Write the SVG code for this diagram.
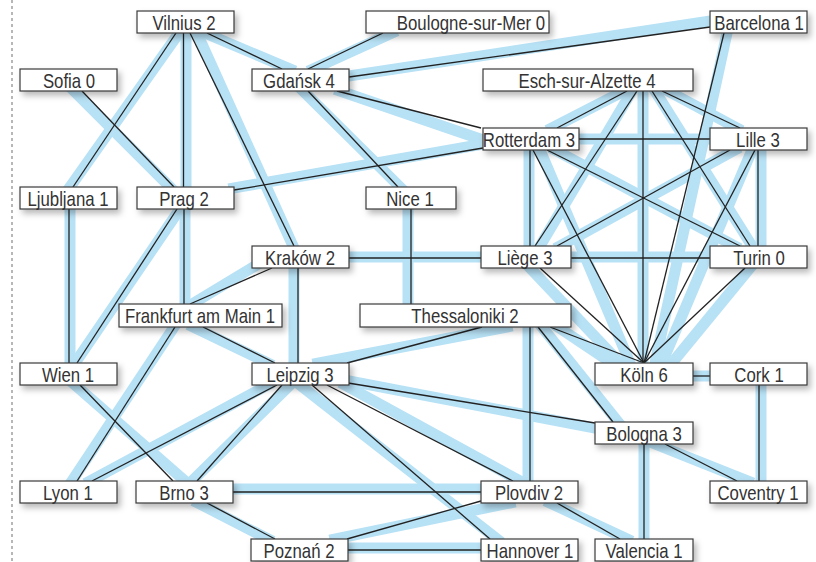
<svg xmlns="http://www.w3.org/2000/svg" width="816" height="562" viewBox="0 0 816 562">
<defs>
<filter id="sh" x="-20%" y="-50%" width="150%" height="220%">
<feDropShadow dx="3" dy="4" stdDeviation="3" flood-color="#000" flood-opacity="0.28"/>
</filter>
</defs>
<style>
.b{stroke:#b7e1f5;stroke-width:11;stroke-linecap:square;fill:none}
.k{stroke:#222;stroke-width:1.3;fill:none}
.n rect{fill:#fff;stroke:#3a3a3a;stroke-width:1.2;filter:url(#sh)}
.n text{font-family:"Liberation Sans",Arial,sans-serif;font-size:20px;fill:#333;text-anchor:middle}
</style>
<rect width="816" height="562" fill="#fff"/>
<line x1="12" y1="0" x2="12" y2="562" stroke="#888" stroke-width="1.2" stroke-dasharray="3,3"/>
<g id="connectors">
<g id="blue">
<line class="b" x1="179" y1="33" x2="70" y2="187"/>
<line class="b" x1="70" y1="209" x2="70" y2="363"/>
<line class="b" x1="186" y1="33" x2="186" y2="187"/>
<line class="b" x1="197" y1="33" x2="293" y2="246"/>
<line class="b" x1="205" y1="33" x2="290" y2="69"/>
<line class="b" x1="74" y1="91" x2="170" y2="187"/>
<line class="b" x1="313" y1="69" x2="392" y2="33"/>
<line class="b" x1="349" y1="76" x2="710" y2="21"/>
<line class="b" x1="340" y1="91" x2="483" y2="140"/>
<line class="b" x1="303" y1="91" x2="400" y2="187"/>
<line class="b" x1="483" y1="144" x2="234" y2="188"/>
<line class="b" x1="727" y1="33" x2="655" y2="363"/>
<line class="b" x1="624" y1="91" x2="552" y2="128"/>
<line class="b" x1="632" y1="91" x2="540" y2="246"/>
<line class="b" x1="643" y1="91" x2="643" y2="363"/>
<line class="b" x1="655" y1="91" x2="752" y2="246"/>
<line class="b" x1="668" y1="91" x2="737" y2="128"/>
<line class="b" x1="579" y1="139" x2="710" y2="139"/>
<line class="b" x1="529" y1="150" x2="529" y2="246"/>
<line class="b" x1="540" y1="150" x2="630" y2="363"/>
<line class="b" x1="555" y1="150" x2="735" y2="246"/>
<line class="b" x1="735" y1="150" x2="560" y2="246"/>
<line class="b" x1="761" y1="150" x2="761" y2="246"/>
<line class="b" x1="752" y1="150" x2="662" y2="363"/>
<line class="b" x1="571" y1="257" x2="710" y2="257"/>
<line class="b" x1="530" y1="268" x2="620" y2="363"/>
<line class="b" x1="750" y1="268" x2="672" y2="363"/>
<line class="b" x1="349" y1="257" x2="481" y2="257"/>
<line class="b" x1="408" y1="209" x2="408" y2="304"/>
<line class="b" x1="294" y1="268" x2="294" y2="363"/>
<line class="b" x1="255" y1="266" x2="192" y2="304"/>
<line class="b" x1="185" y1="209" x2="185" y2="304"/>
<line class="b" x1="180" y1="209" x2="75" y2="363"/>
<line class="b" x1="174" y1="327" x2="72" y2="481"/>
<line class="b" x1="193" y1="327" x2="268" y2="363"/>
<line class="b" x1="507" y1="327" x2="318" y2="363"/>
<line class="b" x1="528" y1="327" x2="528" y2="481"/>
<line class="b" x1="542" y1="327" x2="618" y2="422"/>
<line class="b" x1="558" y1="327" x2="612" y2="363"/>
<line class="b" x1="349" y1="381" x2="595" y2="428"/>
<line class="b" x1="345" y1="385" x2="520" y2="481"/>
<line class="b" x1="300" y1="385" x2="497" y2="539"/>
<line class="b" x1="290" y1="385" x2="192" y2="481"/>
<line class="b" x1="268" y1="385" x2="90" y2="481"/>
<line class="b" x1="75" y1="385" x2="185" y2="481"/>
<line class="b" x1="233" y1="489" x2="481" y2="489"/>
<line class="b" x1="198" y1="503" x2="268" y2="539"/>
<line class="b" x1="510" y1="503" x2="335" y2="539"/>
<line class="b" x1="348" y1="548" x2="481" y2="548"/>
<line class="b" x1="550" y1="503" x2="627" y2="539"/>
<line class="b" x1="693" y1="376" x2="710" y2="376"/>
<line class="b" x1="761" y1="385" x2="761" y2="481"/>
<line class="b" x1="655" y1="444" x2="748" y2="481"/>
<line class="b" x1="644" y1="444" x2="644" y2="539"/>
</g>
<g id="black">
<line class="k" x1="176" y1="33" x2="73" y2="187"/>
<line class="k" x1="69" y1="209" x2="69" y2="363"/>
<line class="k" x1="183.5" y1="33" x2="183.5" y2="187"/>
<line class="k" x1="190" y1="33" x2="294" y2="246"/>
<line class="k" x1="207" y1="33" x2="282" y2="69"/>
<line class="k" x1="82" y1="91" x2="174" y2="187"/>
<line class="k" x1="308" y1="69" x2="383" y2="33"/>
<line class="k" x1="349" y1="77" x2="710" y2="27"/>
<line class="k" x1="337" y1="91" x2="481" y2="128"/>
<line class="k" x1="308" y1="91" x2="398" y2="187"/>
<line class="k" x1="483" y1="148" x2="234" y2="190"/>
<line class="k" x1="724" y1="33" x2="644" y2="363"/>
<line class="k" x1="627" y1="91" x2="557" y2="128"/>
<line class="k" x1="637" y1="91" x2="535" y2="246"/>
<line class="k" x1="643" y1="91" x2="643" y2="363"/>
<line class="k" x1="652" y1="91" x2="750" y2="246"/>
<line class="k" x1="662" y1="91" x2="740" y2="128"/>
<line class="k" x1="579" y1="139" x2="710" y2="139"/>
<line class="k" x1="530" y1="150" x2="530" y2="246"/>
<line class="k" x1="533" y1="150" x2="644" y2="363"/>
<line class="k" x1="547" y1="150" x2="740" y2="246"/>
<line class="k" x1="730" y1="150" x2="557" y2="246"/>
<line class="k" x1="758" y1="150" x2="758" y2="246"/>
<line class="k" x1="755" y1="150" x2="644" y2="363"/>
<line class="k" x1="571" y1="258" x2="710" y2="258"/>
<line class="k" x1="540" y1="268" x2="644" y2="363"/>
<line class="k" x1="745" y1="268" x2="644" y2="363"/>
<line class="k" x1="349" y1="258" x2="481" y2="258"/>
<line class="k" x1="411" y1="209" x2="411" y2="304"/>
<line class="k" x1="298" y1="268" x2="298" y2="363"/>
<line class="k" x1="272" y1="268" x2="190" y2="304"/>
<line class="k" x1="184" y1="209" x2="184" y2="304"/>
<line class="k" x1="177" y1="209" x2="77" y2="363"/>
<line class="k" x1="175" y1="327" x2="77" y2="481"/>
<line class="k" x1="203" y1="327" x2="275" y2="363"/>
<line class="k" x1="482" y1="327" x2="347" y2="363"/>
<line class="k" x1="530" y1="327" x2="530" y2="481"/>
<line class="k" x1="538" y1="327" x2="613" y2="422"/>
<line class="k" x1="550" y1="327" x2="644" y2="363"/>
<line class="k" x1="348" y1="383" x2="595" y2="423"/>
<line class="k" x1="327" y1="385" x2="513" y2="481"/>
<line class="k" x1="312" y1="385" x2="490" y2="539"/>
<line class="k" x1="282" y1="385" x2="197" y2="481"/>
<line class="k" x1="277" y1="385" x2="92" y2="481"/>
<line class="k" x1="80" y1="385" x2="173" y2="481"/>
<line class="k" x1="233" y1="492" x2="481" y2="492"/>
<line class="k" x1="207" y1="503" x2="275" y2="539"/>
<line class="k" x1="481" y1="501" x2="347" y2="539"/>
<line class="k" x1="348" y1="550" x2="481" y2="550"/>
<line class="k" x1="557" y1="503" x2="620" y2="539"/>
<line class="k" x1="693" y1="376" x2="710" y2="376"/>
<line class="k" x1="759" y1="385" x2="759" y2="481"/>
<line class="k" x1="665" y1="444" x2="737" y2="481"/>
<line class="k" x1="644" y1="444" x2="644" y2="539"/>
</g>
</g>
<g id="n-vilnius" class="n"><rect x="137" y="11" width="97" height="22"/><text transform="translate(184 30) scale(0.84 1)">Vilnius 2</text></g>
<g id="n-boulogne" class="n"><rect x="366" y="11" width="183" height="22"/><text transform="translate(471 30) scale(0.84 1)">Boulogne-sur-Mer 0</text></g>
<g id="n-barcelona" class="n"><rect x="710" y="11" width="97" height="22"/><text transform="translate(759 30) scale(0.84 1)">Barcelona 1</text></g>
<g id="n-sofia" class="n"><rect x="20" y="69" width="97" height="22"/><text transform="translate(69 88) scale(0.84 1)">Sofia 0</text></g>
<g id="n-gdansk" class="n"><rect x="252" y="69" width="97" height="22"/><text transform="translate(299 88) scale(0.84 1)">Gdańsk 4</text></g>
<g id="n-esch" class="n"><rect x="483" y="69" width="210" height="22"/><text transform="translate(587 88) scale(0.84 1)">Esch-sur-Alzette 4</text></g>
<g id="n-rotterdam" class="n"><rect x="483" y="128" width="96" height="22"/><text transform="translate(529 147) scale(0.84 1)">Rotterdam 3</text></g>
<g id="n-lille" class="n"><rect x="710" y="128" width="97" height="22"/><text transform="translate(758 147) scale(0.84 1)">Lille 3</text></g>
<g id="n-ljubljana" class="n"><rect x="20" y="187" width="97" height="22"/><text transform="translate(68 206) scale(0.84 1)">Ljubljana 1</text></g>
<g id="n-prag" class="n"><rect x="137" y="187" width="97" height="22"/><text transform="translate(184 206) scale(0.84 1)">Prag 2</text></g>
<g id="n-nice" class="n"><rect x="366" y="187" width="90" height="22"/><text transform="translate(410 206) scale(0.84 1)">Nice 1</text></g>
<g id="n-krakow" class="n"><rect x="252" y="246" width="97" height="22"/><text transform="translate(300 265) scale(0.84 1)">Kraków 2</text></g>
<g id="n-liege" class="n"><rect x="481" y="246" width="90" height="22"/><text transform="translate(525 265) scale(0.84 1)">Liège 3</text></g>
<g id="n-turin" class="n"><rect x="710" y="246" width="97" height="22"/><text transform="translate(759 265) scale(0.84 1)">Turin 0</text></g>
<g id="n-frankfurt" class="n"><rect x="119" y="304" width="163" height="23"/><text transform="translate(200 323) scale(0.84 1)">Frankfurt am Main 1</text></g>
<g id="n-thessaloniki" class="n"><rect x="360" y="304" width="211" height="23"/><text transform="translate(465 323) scale(0.84 1)">Thessaloniki 2</text></g>
<g id="n-wien" class="n"><rect x="20" y="363" width="97" height="22"/><text transform="translate(68 382) scale(0.84 1)">Wien 1</text></g>
<g id="n-leipzig" class="n"><rect x="252" y="363" width="97" height="22"/><text transform="translate(300 382) scale(0.84 1)">Leipzig 3</text></g>
<g id="n-koeln" class="n"><rect x="595" y="363" width="98" height="22"/><text transform="translate(644 382) scale(0.84 1)">Köln 6</text></g>
<g id="n-cork" class="n"><rect x="710" y="363" width="97" height="22"/><text transform="translate(759 382) scale(0.84 1)">Cork 1</text></g>
<g id="n-bologna" class="n"><rect x="595" y="422" width="98" height="22"/><text transform="translate(644 441) scale(0.84 1)">Bologna 3</text></g>
<g id="n-lyon" class="n"><rect x="20" y="481" width="97" height="22"/><text transform="translate(68 500) scale(0.84 1)">Lyon 1</text></g>
<g id="n-brno" class="n"><rect x="136" y="481" width="97" height="22"/><text transform="translate(184 500) scale(0.84 1)">Brno 3</text></g>
<g id="n-plovdiv" class="n"><rect x="481" y="481" width="97" height="22"/><text transform="translate(529 500) scale(0.84 1)">Plovdiv 2</text></g>
<g id="n-coventry" class="n"><rect x="710" y="481" width="97" height="22"/><text transform="translate(758 500) scale(0.84 1)">Coventry 1</text></g>
<g id="n-poznan" class="n"><rect x="251" y="539" width="97" height="22"/><text transform="translate(299 558) scale(0.84 1)">Poznań 2</text></g>
<g id="n-hannover" class="n"><rect x="481" y="539" width="97" height="22"/><text transform="translate(530 558) scale(0.84 1)">Hannover 1</text></g>
<g id="n-valencia" class="n"><rect x="595" y="539" width="98" height="22"/><text transform="translate(644 558) scale(0.84 1)">Valencia 1</text></g>
</svg>
